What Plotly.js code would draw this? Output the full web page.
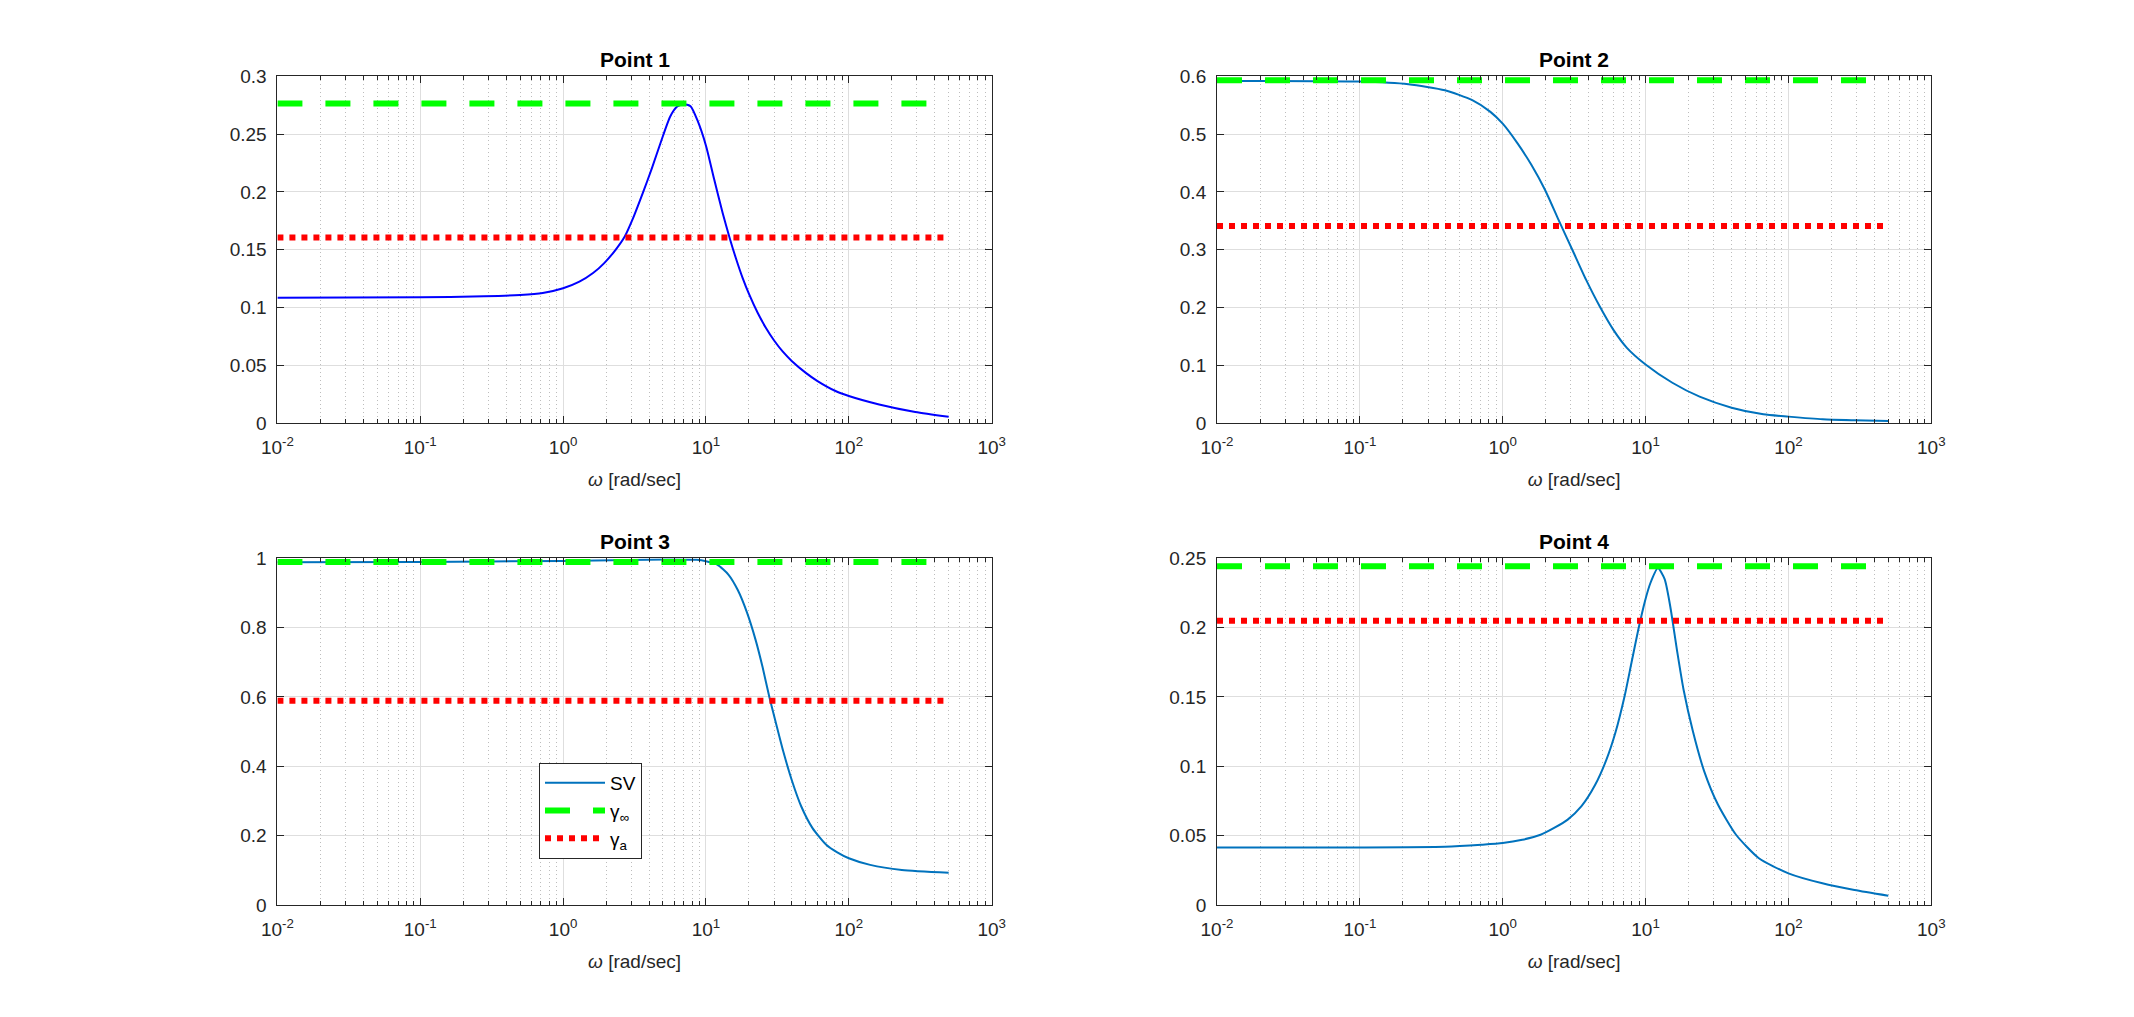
<!DOCTYPE html>
<html>
<head>
<meta charset="utf-8">
<script src="https://cdn.plot.ly/plotly-3.0.1.min.js"></script>
<style>html,body{margin:0;padding:0;background:#fff}</style>
</head>
<body>
<div id="chart" style="width:2134px;height:1017px"></div>
<script>
// singular value curves, omega in rad/sec
var w1 = [0.01, 0.1, 0.279, 0.5, 0.72, 1.0, 1.3, 1.62, 1.94, 2.33, 2.7, 3.12, 3.61, 4.18, 4.84, 5.61, 6.26, 6.99, 7.8, 8.71, 10, 11.4, 13.1, 14.7, 16.2, 18.1, 20, 23, 26.3, 30, 34.4, 40, 50, 60, 80, 100, 163, 292, 500];
var sv1 = [0.1086, 0.1089, 0.1098, 0.1109, 0.1126, 0.1167, 0.1224, 0.1299, 0.1385, 0.150, 0.1615, 0.1787, 0.1989, 0.2204, 0.2434, 0.265, 0.2736, 0.2759, 0.2741, 0.262, 0.240, 0.2112, 0.1816, 0.1596, 0.1427, 0.1253, 0.1118, 0.0955, 0.0824, 0.0716, 0.0621, 0.0537, 0.0436, 0.0367, 0.0281, 0.0236, 0.0163, 0.0098, 0.0056];

var w2 = [0.01, 0.1, 0.219, 0.394, 0.612, 0.82, 1.0, 1.27, 1.59, 1.98, 2.46, 3.07, 3.83, 4.77, 5.94, 7.4, 10, 15.4, 23.9, 40, 66.8, 100, 174, 290, 500];
var sv2 = [0.592, 0.5908, 0.5862, 0.5759, 0.5586, 0.5385, 0.518, 0.4839, 0.4466, 0.4034, 0.3517, 0.300, 0.2483, 0.2023, 0.162, 0.1305, 0.1017, 0.0701, 0.046, 0.027, 0.0155, 0.0115, 0.0069, 0.0052, 0.0039];

var w3 = [0.01, 0.1, 1, 5.2, 8.6, 10, 12.0, 14.4, 16.7, 19.3, 22.3, 24.9, 27.8, 31.0, 34.7, 40.1, 46.4, 55.7, 69.5, 83, 100, 141, 235, 500];
var sv3 = [0.988, 0.989, 0.992, 0.996, 0.995, 0.991, 0.981, 0.952, 0.908, 0.845, 0.763, 0.686, 0.599, 0.522, 0.444, 0.357, 0.285, 0.222, 0.174, 0.152, 0.135, 0.116, 0.1014, 0.0935];

var w4 = [0.01, 0.1, 0.394, 0.71, 1.0, 1.37, 1.84, 2.29, 2.85, 3.56, 4.43, 5.32, 6.16, 7.13, 7.96, 8.89, 9.9, 10.8, 12.2, 13.6, 14.9, 16.6, 18.5, 21.4, 25.7, 32.1, 43.0, 62.1, 100, 173, 290, 500];
var sv4 = [0.0415, 0.0415, 0.042, 0.0435, 0.0447, 0.0471, 0.0507, 0.0556, 0.0616, 0.0713, 0.0865, 0.1048, 0.1245, 0.1505, 0.1744, 0.1984, 0.219, 0.2319, 0.2428, 0.2348, 0.215, 0.1836, 0.1546, 0.1256, 0.0966, 0.0725, 0.0507, 0.0338, 0.0229, 0.0157, 0.0109, 0.0068];

// gamma levels per point
var gammaInf = [0.2764, 0.593, 0.989, 0.2442];
var gammaA = [0.1606, 0.341, 0.589, 0.2048];
var wEnds = [0.01, 500];

var titles = ['Point 1', 'Point 2', 'Point 3', 'Point 4'];
var yMax = [0.3, 0.6, 1, 0.25];
var yStep = [0.05, 0.1, 0.2, 0.05];
var decades = [-2, -1, 0, 1, 2, 3];

var ws = [w1, w2, w3, w4];
var svs = [sv1, sv2, sv3, sv4];
var svColors = ['#0000ff', '#0072bd', '#0072bd', '#0072bd'];

var font = 'Liberation Sans, Arial, Helvetica, sans-serif';
var axCol = '#262626';

// matlab subplot(2,2,k) positions
var xDom = [[0.13, 0.4647], [0.5703, 0.905]];
var yDom = [[0.5838, 0.925], [0.11, 0.4512]];

var majorVals = decades.map(function (p) { return Math.pow(10, p); });
var majorText = decades.map(function (p) {
  return '10<sup>' + (p < 0 ? '-' : '') + Math.abs(p) + '</sup>';
});
var minorVals = [];
for (var p = -2; p < 3; p++) {
  for (var k = 2; k <= 9; k++) minorVals.push(k * Math.pow(10, p));
}

var data = [];
var layout = {
  width: 2134, height: 1017, autosize: false,
  margin: {l: 0, r: 0, t: 0, b: 0},
  paper_bgcolor: '#fff', plot_bgcolor: '#fff',
  font: {family: font, color: axCol},
  showlegend: true,
  legend: {
    x: 539 / 2134, y: 1 - 763 / 1017, xanchor: 'left', yanchor: 'top',
    bgcolor: '#fff', bordercolor: axCol, borderwidth: 1,
    font: {family: font, size: 19, color: '#000'},
    itemwidth: 60, tracegroupgap: 0
  },
  annotations: []
};

for (var i = 0; i < 4; i++) {
  var sfx = i === 0 ? '' : String(i + 1);
  var xa = 'x' + sfx, ya = 'y' + sfx;
  var col = i % 2, row = Math.floor(i / 2);
  var inLegend = i === 2;

  data.push({
    x: ws[i], y: svs[i], xaxis: xa, yaxis: ya, type: 'scatter', mode: 'lines',
    name: 'SV', showlegend: inLegend,
    line: {color: svColors[i], width: 2, shape: 'spline', smoothing: 0.6}
  });
  data.push({
    x: wEnds, y: [gammaInf[i], gammaInf[i]], xaxis: xa, yaxis: ya, type: 'scatter', mode: 'lines',
    name: 'γ<sub>∞</sub>', showlegend: inLegend,
    line: {color: '#00ff00', width: 6, dash: '25px,23px'}
  });
  data.push({
    x: wEnds, y: [gammaA[i], gammaA[i]], xaxis: xa, yaxis: ya, type: 'scatter', mode: 'lines',
    name: 'γ<sub>a</sub>', showlegend: inLegend,
    line: {color: '#ff0000', width: 6, dash: '6px,6px'}
  });

  layout['xaxis' + sfx] = {
    type: 'log', domain: xDom[col], anchor: ya, range: [-2, 3],
    tickmode: 'array', tickvals: majorVals, ticktext: majorText,
    ticks: 'inside', ticklen: 7, tickcolor: axCol, ticklabelstandoff: 7,
    showline: true, linecolor: axCol, linewidth: 1, mirror: 'ticks',
    showgrid: true, gridcolor: '#dedede', gridwidth: 1, zeroline: false,
    minor: {
      tickmode: 'array', tickvals: minorVals, ticks: 'inside', ticklen: 4,
      tickcolor: axCol, showgrid: true, gridcolor: '#bdbdbd', griddash: '1px,3px'
    },
    tickfont: {family: font, size: 19, color: axCol},
    title: {text: '<i>ω</i> [rad/sec]', font: {family: font, size: 19, color: axCol}, standoff: 15}
  };
  layout['yaxis' + sfx] = {
    domain: yDom[row], anchor: xa, range: [0, yMax[i]],
    tick0: 0, dtick: yStep[i],
    ticks: 'inside', ticklen: 7, tickcolor: axCol, ticklabelstandoff: 6,
    showline: true, linecolor: axCol, linewidth: 1, mirror: 'ticks',
    showgrid: true, gridcolor: '#dedede', gridwidth: 1, zeroline: false,
    tickfont: {family: font, size: 19, color: axCol}
  };
  layout.annotations.push({
    text: '<b>' + titles[i] + '</b>', xref: 'paper', yref: 'paper',
    x: (xDom[col][0] + xDom[col][1]) / 2, y: yDom[row][1],
    xanchor: 'center', yanchor: 'bottom', yshift: 3, showarrow: false,
    font: {family: font, size: 21, color: '#000'}
  });
}

Plotly.newPlot('chart', data, layout, {displayModeBar: false, staticPlot: true});
</script>
</body>
</html>
